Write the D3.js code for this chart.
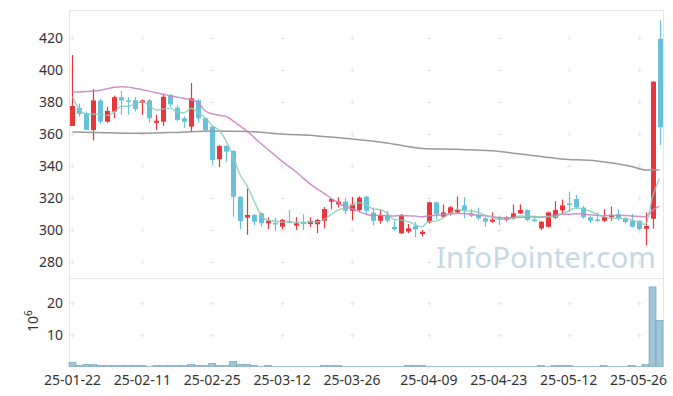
<!DOCTYPE html>
<html><head><meta charset="utf-8">
<script src="https://cdn.jsdelivr.net/npm/d3@7"></script>
<style>
html,body{margin:0;padding:0;background:#fff;}
svg text{font-family:"Noto Sans",sans-serif;}
</style></head>
<body><svg id="c" width="673" height="396"></svg>
<script>
// ---------- data ----------
const opens  = [365,376.3,373,362.5,381,367.7,374,383,381,381,379.6,381,367,367.7,384.4,376.5,369.8,364.6,381,369.8,
  364.6,344.2,352.5,349.4,320.8,307.7,309.4,310.4,304.2,304.4,302.1,305.6,302.7,305.2,303.7,303.6,305.8,317.7,316,317.7,
  312,312.5,320.8,310.8,305.8,309.4,302,298,299,302.5,297.5,304.8,317.3,308.3,310.4,311,315.4,310.4,309.4,307.3,
  305.2,308,306.3,307.3,310.4,312.5,306.5,301,302,307.7,312.3,316.6,319.4,314,308,306.6,305.8,308,309.8,307.3,
  305.8,305.8,300.8,307,419.4];
const highs  = [409.4,379,374,388,382,377,384,387,383,383,381.5,382,372,385,385,378,371,391.9,382,370,
  365,353,353,350,321,326,310,311,308,307.7,307,312.5,308,310,308,307,314.4,319.8,320.4,320,
  320.6,321,321.5,314,313,312,306,310,303.7,305,300,317.7,317.5,316,315,321,320.6,313,314,308,
  311,309,308.5,316,316,313,308.7,305.5,311.5,318,319,324,322,315,309,311,313,314.6,313,308,
  310,306,311,393,431];
const lows   = [365,370.8,362.5,356,366.5,367,370,372,372,374,372,367,362.5,365,377,368,363.7,361.5,367,362,
  340.6,339.4,342.7,308.3,300.6,297,303,302,300.6,299.4,300.6,304.5,300,300,302,298,301,313,314,310,
  306,311,309.4,303,304,304.5,299.5,297.5,298,295.6,296,304,307,307.5,309,310.5,307.5,308,306,302,
  304.5,303,305.5,306.5,310,305.5,305,300,301.5,307,309.4,311.5,313,307,304.2,305,305,305.8,306,304,
  301.5,300,290.4,300.8,353];
const closes = [377.5,372.5,362.5,381,367.7,374.4,383,381,380.5,375.6,381,369.8,368.3,383.3,378.5,368.8,367.7,382.3,369.8,362.5,
  343.8,352.5,349,320.8,305.6,309.4,305.2,304.2,305.6,303.6,306.3,305,304.2,303.7,305.6,306.3,313.1,319.4,317.7,312,
  316,320.2,312,305.8,309.4,305.8,300.4,309.4,301,300.4,298.9,317.3,310,311,314.2,312.5,312.5,309,307.3,305.2,
  306.5,306.5,307.7,310.4,312.5,306.3,306,305.2,311,312.5,315.4,316,314.2,308,305.8,306,308,309.4,307.3,305,
  302,300.6,302.5,392.7,364.2];
// volume, millions of shares
const volumes = [1.3,0.3,0.6,0.6,0.3,0.3,0.3,0.3,0.3,0.3,0.3,0.05,0.3,0.3,0.3,0.3,0.3,0.6,0.3,0.3,
  1.0,0.3,0.3,1.6,0.7,0.7,0.3,0.05,0.3,0.05,0.05,0.05,0.05,0.05,0.05,0.05,0.3,0.3,0.3,0.05,
  0.05,0.05,0.05,0.05,0.05,0.05,0.05,0.05,0.3,0.3,0.3,0.05,0.05,0.05,0.05,0.05,0.05,0.05,0.05,0.05,
  0.05,0.05,0.05,0.05,0.05,0.05,0.05,0.3,0.05,0.3,0.3,0.3,0.05,0.05,0.05,0.05,0.3,0.05,0.05,0.05,
  0.3,0.05,0.6,25,14.5];
// moving averages before enough history exists
const ma5Head  = [383.3,375.5,372.5,372.5];
const ma20Head = [386.2,386.3,386.5,386.8,387.4,388.3,389.2,389.6,389.3,388.5,387.7,386.8,385.8,384.8,383.8,383,382.2,381.4,379.5];
// long moving average (grey), read at candle indices
const maLongIdx = [0,5,10,15,20,25,30,35,40,45,50,55,60,65,70,75,80,82,84];
const maLongVal = [361.2,360.8,360.5,361,361.8,361.6,360,358.8,356.9,354.4,351,350.4,349.5,347,344.4,343.1,339.7,337.5,337.5];
const tickIdx    = [0,10,20,30,40,51,61,71,81];
const tickLabels = ["25-01-22","25-02-11","25-02-25","25-03-12","25-03-26","25-04-09","25-04-23","25-05-12","25-05-26"];
const priceTicks = [280,300,320,340,360,380,400,420];
const volTicks   = [10,20];

// ---------- layout ----------
const L=69, R=663, T=10, MID=278, B=366.5;
const svg = d3.select("#c");
const n = closes.length;
const x = d3.scaleBand().domain(d3.range(n)).range([L,R]).paddingInner(0).paddingOuter(0);
const cx = i => x(i) + x.bandwidth()/2;
const y = d3.scaleLinear().domain([270,437.5]).range([MID,T]);
const yv = d3.scaleLinear().domain([0,27.8]).range([B,MID]);

const UP="#e8363b", DOWN="#68c1d9";

// borders
svg.append("rect").attr("x",L+0.5).attr("y",T+0.5).attr("width",R-L).attr("height",MID-T)
  .attr("fill","none").attr("stroke","#e6e6e6");
svg.append("line").attr("x1",L+0.5).attr("x2",L+0.5).attr("y1",MID).attr("y2",B).attr("stroke","#e6e6e6");
svg.append("line").attr("x1",R+0.5).attr("x2",R+0.5).attr("y1",MID).attr("y2",B).attr("stroke","#e6e6e6");

// grid crosses
const cross = (px,py)=>{
  svg.append("path").attr("d",`M${px-2.5},${py}H${px+2.5}M${px},${py-2.5}V${py+2.5}`)
    .attr("stroke","#e9e9e9").attr("stroke-width",1).attr("fill","none");
};
tickIdx.forEach(i=>{
  const px=Math.round(cx(i))+0.5;
  priceTicks.forEach(v=>cross(px,Math.round(y(v))+0.5));
  volTicks.forEach(v=>cross(px,Math.round(yv(v))+0.5));
});

// watermark (sized to the reference width)
const wm = svg.append("text").attr("x",436).attr("y",268)
  .attr("font-size",33).attr("fill","#c6d8e4").text("InfoPointer.com");
const wl = wm.node().getComputedTextLength();
if (wl>0) wm.attr("font-size", 33*220/wl);

// y axis labels
const axisText = svg.append("g").attr("font-size",14).attr("fill","#333").attr("text-anchor","end");
priceTicks.forEach(v=>axisText.append("text").attr("x",63).attr("y",y(v)+5).text(v));
volTicks.forEach(v=>axisText.append("text").attr("x",63).attr("y",yv(v)+5).text(v));
// x labels
const xt = svg.append("g").attr("font-size",14).attr("fill","#333").attr("text-anchor","middle");
tickIdx.forEach((i,k)=>xt.append("text").attr("x",cx(i)).attr("y",385).text(tickLabels[k]));
// 10^6 label
const ul = svg.append("text").attr("transform","translate(38,332) rotate(-90)").attr("font-size",14).attr("fill","#333");
ul.append("tspan").text("10");
ul.append("tspan").attr("dy",-6).attr("font-size",10).text("6");

// volume bars
svg.append("g").selectAll("rect").data(volumes).join("rect")
  .attr("x",(d,i)=>x(i)).attr("width",x.bandwidth())
  .attr("y",d=>yv(d)).attr("height",d=>Math.max(0,B-yv(d)))
  .attr("fill","#9fc5d6").attr("stroke","#6a9fb8").attr("stroke-width",0.6);

// clip for price panel
svg.append("clipPath").attr("id","pc").append("rect").attr("x",L).attr("y",T).attr("width",R-L).attr("height",MID-T);
const g = svg.append("g").attr("clip-path","url(#pc)");

// candles
const cw = 5;
const cg = g.append("g");
d3.range(n).forEach(i=>{
  const o=opens[i], c=closes[i], col = c>=o?UP:DOWN;
  const xc = Math.round(cx(i));
  cg.append("line").attr("x1",xc+0.5).attr("x2",xc+0.5).attr("y1",y(highs[i])).attr("y2",y(lows[i]))
    .attr("stroke",col).attr("stroke-width",1.2);
  const top=y(Math.max(o,c)), bot=y(Math.min(o,c));
  cg.append("rect").attr("x",xc+0.5-cw/2).attr("width",cw).attr("y",top).attr("height",Math.max(1.5,bot-top))
    .attr("fill",col);
});

// moving averages
function ma(period, head){
  return d3.range(n).map(i=> i<period-1 ? head[i] : d3.mean(closes.slice(i-period+1,i+1)));
}
const ma5 = ma(5, ma5Head), ma20 = ma(20, ma20Head);
const line = d3.line().x(d=>cx(d[0])).y(d=>y(d[1])).curve(d3.curveMonotoneX);
g.append("path").attr("d",line(maLongIdx.map((k,j)=>[k,maLongVal[j]])))
  .attr("fill","none").attr("stroke","#9a9a9a").attr("stroke-width",1.5);
g.append("path").attr("d",line(ma20.map((v,i)=>[i,v])))
  .attr("fill","none").attr("stroke","#c986c4").attr("stroke-width",1.5).attr("stroke-opacity",0.9);
g.append("path").attr("d",line(ma5.map((v,i)=>[i,v])))
  .attr("fill","none").attr("stroke","#86cdbb").attr("stroke-width",1.4).attr("stroke-opacity",0.85);
</script></body></html>
